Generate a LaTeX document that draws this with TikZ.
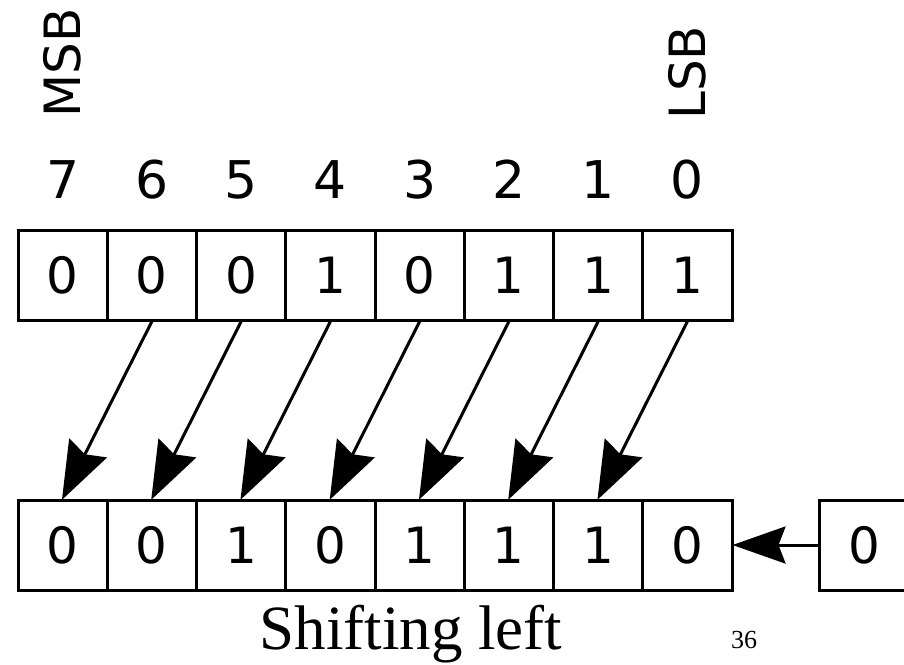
\documentclass[tikz,border=0pt]{standalone}
\usepackage{fontspec}
\setmainfont{Liberation Serif}
\newfontfamily\dejavu{DejaVu Sans}
\usetikzlibrary{arrows.meta}
\begin{document}
\begin{tikzpicture}[x=1pt,y=-1pt,
  cell/.style={draw, line width=3pt, minimum width=89.25pt, minimum height=90pt,
    inner sep=0pt, font=\dejavu\fontsize{50}{60}\selectfont},
  idx/.style={anchor=base, inner sep=0pt, font=\dejavu\fontsize{52}{60}\selectfont},
  vlabel/.style={rotate=90, anchor=west, inner sep=0pt, font=\dejavu\fontsize{50}{60}\selectfont},
  shiftarrow/.style={line width=3pt, shorten >=-1.5pt, -{Stealth[length=58pt, width=42pt, inset=7pt]}},
  inarrow/.style={line width=3pt, shorten >=-1pt, -{Stealth[length=53pt, width=37pt, inset=7pt]}}
]
\clip (0,0) rectangle (904,664);
\fill[white] (0,0) rectangle (904,664);
% top row (bits 7..0)
\foreach \v [count=\i from 0] in {0,0,0,1,0,1,1,1}{
  \pgfmathsetmacro{\cx}{18+89.25*\i+44.625}
  \pgfmathtruncatemacro{\b}{7-\i}
  \node[cell] (t\b) at (\cx,275) {\v};
  \node[idx] (n\b) at (\cx,198) {\b};
}
% bottom row
\foreach \v [count=\i from 0] in {0,0,1,0,1,1,1,0}{
  \pgfmathsetmacro{\cx}{18+89.25*\i+44.625}
  \pgfmathtruncatemacro{\b}{7-\i}
  \node[cell] (b\b) at (\cx,545) {\v};
}
\node[cell] (in) at (864.6,545) {0};
\node[vlabel] (msb) at (t7.center |- 0,118) {MSB};
\node[vlabel] (lsb) at (t0.center |- 0,120) {LSB};
% shift arrows
\foreach \s/\d in {6/7,5/6,4/5,3/4,2/3,1/2,0/1}{
  \draw[shiftarrow] (t\s.south) -- (b\d.north);
}
\draw[inarrow] (in.west) -- (b0.east);
\node[anchor=base, inner sep=0pt, font=\fontsize{63}{70}\selectfont] (title) at (411,649) {Shifting left};
\node[anchor=base, inner sep=0pt, font=\fontsize{26}{30}\selectfont] (page) at (744,648) {36};
\end{tikzpicture}
\end{document}
